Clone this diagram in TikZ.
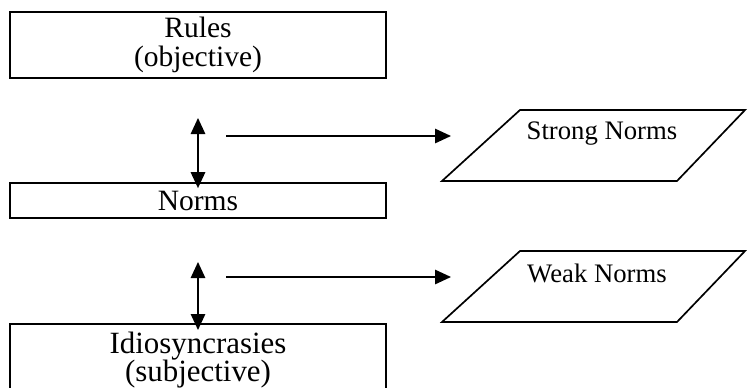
\documentclass[tikz,border=0pt]{standalone}
\usepackage{fontspec}
\setmainfont{Liberation Serif}
\usetikzlibrary{arrows.meta}

\begin{document}
\begin{tikzpicture}[line width=1.2pt, >={Triangle[length=0.4cm,width=0.36cm]},
  caja/.style={draw, inner sep=0pt, minimum width=9.4cm, align=center, font=\fontsize{21}{20.6}\selectfont},
  etiqueta/.style={font=\fontsize{19}{23}\selectfont}]
\clip (0,0) rectangle (18.675,-9.7);
% Levels
\node[caja, minimum height=1.65cm] (rules) at (4.95,-1.125) {Rules\\(objective)};
\node[caja, minimum height=0.875cm] (norms) at (4.95,-5.0125) {Norms};
\node[caja, anchor=north, inner ysep=0.2cm, font=\fontsize{22}{20.4}\selectfont] (idio) at (4.95,-8.075) {Idiosyncrasies\\(subjective)};
% Between the levels
\coordinate (up1) at (4.95,-2.95);
\coordinate (up2) at (4.95,-6.55);
\draw[<->] (up1) -- ([yshift=-0.15cm]norms.north);
\draw[<->] (up2) -- ([yshift=-0.175cm]idio.north);
% Strong norms
\coordinate (s0) at (5.65,-3.4);
\coordinate (s1) at (11.275,-3.4);
\draw[->] (s0) -- (s1);
\draw (11.05,-4.525) -- (16.925,-4.525) -- (18.625,-2.75) -- (13,-2.75) -- cycle;
\node[etiqueta] (strong) at (15.05,-3.35) {Strong Norms};
% Weak norms
\coordinate (w0) at (5.65,-6.925);
\coordinate (w1) at (11.275,-6.925);
\draw[->] (w0) -- (w1);
\draw (11.05,-8.05) -- (16.925,-8.05) -- (18.625,-6.275) -- (13,-6.275) -- cycle;
\node[etiqueta] (weak) at (14.925,-6.825) {Weak Norms};
\end{tikzpicture}
\end{document}
